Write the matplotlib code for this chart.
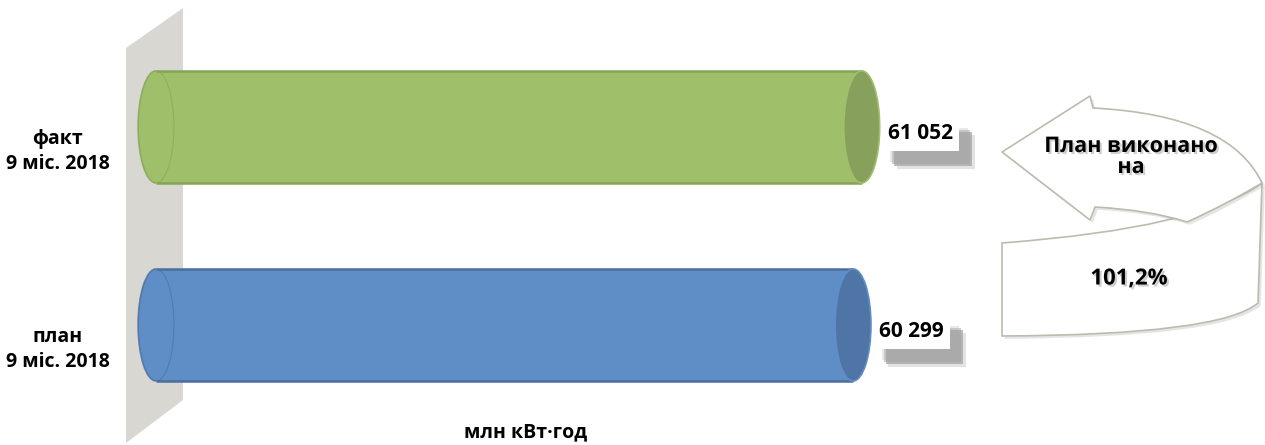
import matplotlib.pyplot as plt
import matplotlib.patheffects as pe
import matplotlib.transforms as mtransforms
from matplotlib.patches import Ellipse, Arc, Polygon, PathPatch
from matplotlib.path import Path

# data
categories = ['план\n9 міс. 2018', 'факт\n9 міс. 2018']
values = [60299, 61052]
body_colors = ['#5F8DC6', '#A0BF6A']
cap_colors = ['#4F74A6', '#87A05B']
edge_colors = ['#4A6E9E', '#86A457']
unit_label = 'млн кВт·год'
note_text = 'План виконано\nна'

pct = values[1] / values[0] * 100
pct_text = f'{pct:.1f}%'.replace('.', ',')

plt.rcParams['font.family'] = ['Open Sans', 'DejaVu Sans']
plt.rcParams['font.weight'] = 'bold'

W, H = 1265, 445
fig = plt.figure(figsize=(W / 100, H / 100), dpi=100)

# decoration layer in pixel coords (wall + curved arrow)
deco = fig.add_axes([0, 0, 1, 1], zorder=0)
deco.set_xlim(0, W)
deco.set_ylim(H, 0)
deco.axis('off')

wall = Polygon([(126, 48), (183, 8), (183, 400), (126, 443)],
               closed=True, facecolor='#D9D7D2', edgecolor='none')
deco.add_patch(wall)

arrow_edge = '#BDBBAE'
shadow = [pe.SimplePatchShadow(offset=(2, -2), shadow_rgbFace='#999999', alpha=0.25), pe.Normal()]

# lower band
low_verts = [(1002, 243), (1200, 228), (1262, 183),
             (1258, 303),
             (1220, 335), (1002, 336),
             (1002, 243)]
low_codes = [Path.MOVETO, Path.CURVE3, Path.CURVE3,
             Path.LINETO,
             Path.CURVE3, Path.CURVE3,
             Path.CLOSEPOLY]
low = PathPatch(Path(low_verts, low_codes), facecolor='white',
                edgecolor=arrow_edge, lw=1.2)
low.set_path_effects(shadow)
deco.add_patch(low)

# upper band with arrow head
up_verts = [(1002, 152), (1090, 96), (1093, 108),
            (1230, 115), (1262, 183),
            (1225, 205), (1187, 222),
            (1150, 210), (1095, 207),
            (1090, 220), (1002, 152)]
up_codes = [Path.MOVETO, Path.LINETO, Path.LINETO,
            Path.CURVE3, Path.CURVE3,
            Path.CURVE3, Path.CURVE3,
            Path.CURVE3, Path.CURVE3,
            Path.LINETO, Path.CLOSEPOLY]
up = PathPatch(Path(up_verts, up_codes), facecolor='white',
               edgecolor=arrow_edge, lw=1.2)
up.set_path_effects(shadow)
deco.add_patch(up)

txt_shadow = [pe.withSimplePatchShadow(offset=(1.5, -1.5), shadow_rgbFace='#777777', alpha=0.35)]
deco.text(1131, 157, note_text, ha='center', va='center', fontsize=15.5,
          fontweight='bold', linespacing=1.0, path_effects=txt_shadow)
deco.text(1129, 279, pct_text, ha='center', va='center', fontsize=16,
          fontweight='bold', path_effects=txt_shadow)

# main chart
ax = fig.add_axes([156 / W, 45 / H, 740 / W, 380 / H], zorder=1)
ax.patch.set_alpha(0)
ax.set_xlim(0, 64014)
ax.set_ylim(-0.379, 1.540)
for s in ax.spines.values():
    s.set_visible(False)

bar_h = 0.566
cap_w = 3100
ypos = list(range(len(categories)))

bars = ax.barh(ypos, values, height=bar_h, color=body_colors, edgecolor='none', zorder=2)
for y, v, bc, cc, ec in zip(ypos, values, body_colors, cap_colors, edge_colors):
    ax.add_patch(Ellipse((0, y), cap_w, bar_h, facecolor=bc, edgecolor='none', zorder=2, clip_on=False))
    ax.add_patch(Arc((0, y), cap_w, bar_h, theta1=-90, theta2=90, color=ec, lw=0.8, alpha=0.6,
                     zorder=3, clip_on=False))
    ax.add_patch(Arc((0, y), cap_w, bar_h, theta1=90, theta2=270, color=ec, lw=1.2, alpha=0.8,
                     zorder=3, clip_on=False))
    ax.plot([0, v], [y + bar_h / 2] * 2, color=ec, lw=1.8, zorder=3, solid_capstyle='butt')
    ax.plot([0, v], [y - bar_h / 2] * 2, color=ec, lw=1.8, zorder=3, solid_capstyle='butt')
    ax.add_patch(Ellipse((v, y), cap_w, bar_h, facecolor=cc, edgecolor=bc, lw=1.2, zorder=4))

    lbl = ax.annotate(f'{v:,}'.replace(',', ' '), xy=(v, y), xytext=(19, -5),
                      textcoords='offset points', ha='left', va='center',
                      fontsize=15, fontweight='bold', zorder=5, annotation_clip=False,
                      bbox=dict(boxstyle='square,pad=0.3', facecolor='white', edgecolor='none'))
    lbl.get_bbox_patch().set_path_effects([
        pe.SimplePatchShadow(offset=(6, -8), shadow_rgbFace='#E0E0E0', alpha=0.7),
        pe.SimplePatchShadow(offset=(11, -13), shadow_rgbFace='#D8D8D8', alpha=0.7),
        pe.SimplePatchShadow(offset=(7.5, -9.5), shadow_rgbFace='#B8B8B8', alpha=0.7),
        pe.SimplePatchShadow(offset=(9, -11), shadow_rgbFace='#A0A0A0', alpha=0.7),
        pe.Normal()])

ax.set_xticks([])
ax.set_yticks(ypos)
ax.set_yticklabels(categories, fontsize=14, fontweight='bold', ha='center',
                   multialignment='center', linespacing=1.3)
ax.tick_params(axis='y', length=0, pad=71)
shift = mtransforms.ScaledTranslation(0, -20 / 100, fig.dpi_scale_trans)
for t in ax.get_yticklabels():
    t.set_transform(t.get_transform() + shift)
ax.set_xlabel(unit_label, fontsize=14, fontweight='bold', labelpad=16)

fig.savefig('out.png', dpi=100)
